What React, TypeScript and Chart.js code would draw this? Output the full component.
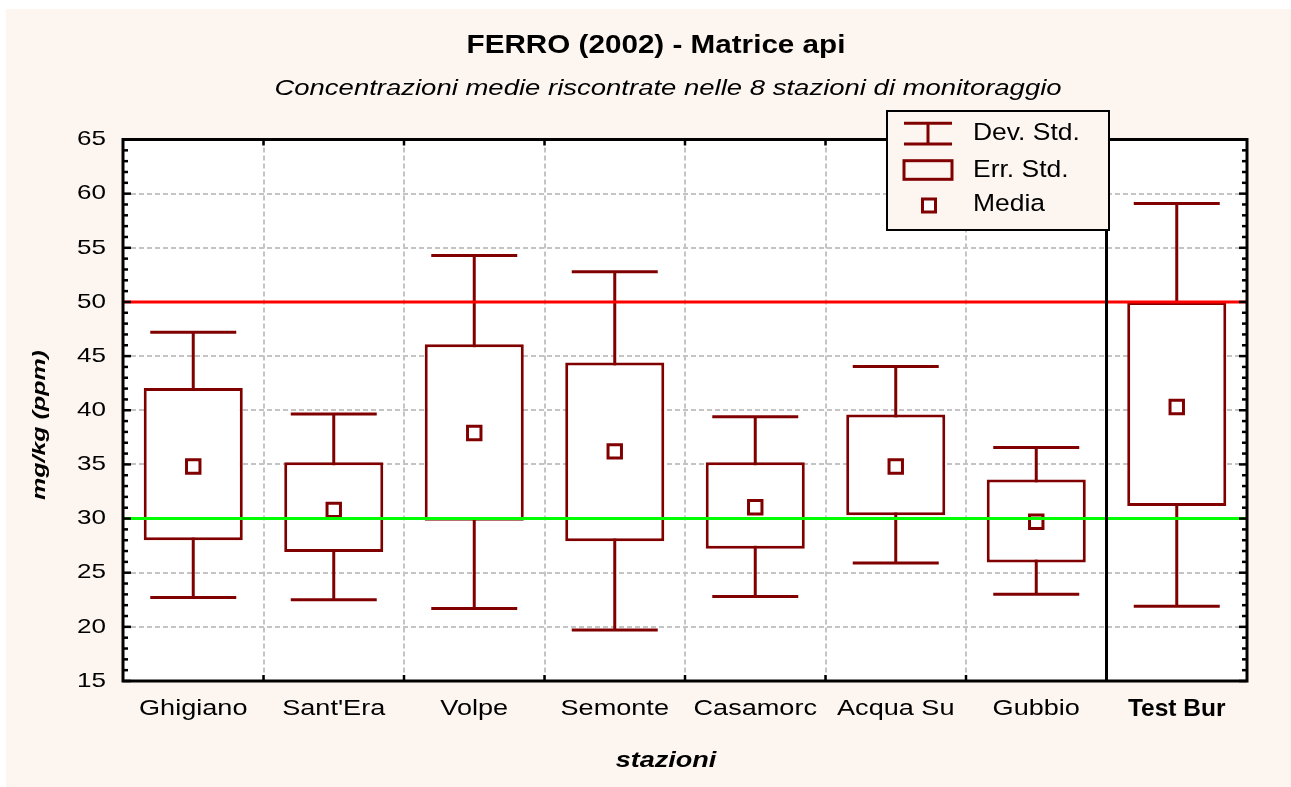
import React, { useEffect, useRef } from 'react';
import { Chart, registerables } from 'chart.js';

Chart.register(...registerables);

// ---------- data ----------
const categories = ['Ghigiano', "Sant'Era", 'Volpe', 'Semonte', 'Casamorc', 'Acqua Su', 'Gubbio', 'Test Bur'];
const means = [34.8, 30.8, 37.9, 36.2, 31.05, 34.8, 29.7, 40.3];
const seLow = [28.0, 26.9, 29.8, 27.9, 27.2, 30.3, 25.95, 31.15];
const seHigh = [42.05, 35.2, 46.1, 44.4, 35.2, 39.6, 33.6, 50.0];
const sdLow = [22.7, 22.5, 21.7, 19.7, 22.8, 25.9, 23.0, 21.9];
const sdHigh = [47.2, 39.65, 54.3, 52.8, 39.4, 44.05, 36.55, 59.1];
const yTickLabels = [15, 20, 25, 30, 35, 40, 45, 50, 55, 60, 65];
const refUpper = 50;
const refLower = 30;
const titleText = 'FERRO (2002) - Matrice api';
const subtitleText = 'Concentrazioni medie riscontrate nelle 8 stazioni di monitoraggio';
const xTitleText = 'stazioni';
const yTitleText = 'mg/kg (ppm)';
const legendLabels = ['Dev. Std.', 'Err. Std.', 'Media'];

// ---------- style ----------
const W = 1285;
const H = 778;
const BG = '#fdf6f0';
const DARK = '#800000';
const GRID = '#c4c4c4';
const FONT = '"Liberation Sans", Arial, sans-serif';
const BOX_FRAC = 0.705;
const CAP_FRAC = 0.612;

function txt(ctx: CanvasRenderingContext2D, s: string, x: number, y: number, font: string,
  align: CanvasTextAlign, sx: number, baseline: CanvasTextBaseline = 'alphabetic') {
  ctx.save();
  ctx.font = font;
  ctx.textAlign = align;
  ctx.textBaseline = baseline;
  ctx.fillStyle = '#000';
  ctx.translate(x, y);
  ctx.scale(sx, 1);
  ctx.fillText(s, 0, 0);
  ctx.restore();
}

function line(ctx: CanvasRenderingContext2D, x1: number, y1: number, x2: number, y2: number) {
  ctx.beginPath();
  ctx.moveTo(x1, y1);
  ctx.lineTo(x2, y2);
  ctx.stroke();
}

const customPlugin = {
  id: 'customDraw',
  beforeDraw(chart: any) {
    const { ctx, chartArea: a } = chart;
    ctx.save();
    ctx.fillStyle = BG;
    ctx.fillRect(0, 0, chart.width, chart.height);
    ctx.fillStyle = '#ffffff';
    ctx.fillRect(a.left, a.top, a.right - a.left, a.bottom - a.top);
    ctx.restore();
  },
  beforeDatasetsDraw(chart: any) {
    const { ctx } = chart;
    const xs = chart.scales.x;
    const ys = chart.scales.y;
    const catW = xs.getPixelForValue(1) - xs.getPixelForValue(0);
    const half = (catW * CAP_FRAC) / 2;
    ctx.save();
    ctx.strokeStyle = DARK;
    ctx.lineWidth = 3;
    categories.forEach((_, i) => {
      const px = xs.getPixelForValue(i);
      const yl = ys.getPixelForValue(sdLow[i]);
      const yh = ys.getPixelForValue(sdHigh[i]);
      line(ctx, px, yl, px, yh);
      line(ctx, px - half, yl, px + half, yl);
      line(ctx, px - half, yh, px + half, yh);
    });
    ctx.restore();
  },
  afterDraw(chart: any) {
    const { ctx, chartArea: a } = chart;
    const xs = chart.scales.x;
    const ys = chart.scales.y;
    ctx.save();
    ctx.lineCap = 'butt';
    // reference lines
    ctx.lineWidth = 3;
    ctx.strokeStyle = '#ff0000';
    const yu = ys.getPixelForValue(refUpper);
    line(ctx, a.left, yu, a.right, yu);
    ctx.strokeStyle = '#00ff00';
    const yl = ys.getPixelForValue(refLower);
    line(ctx, a.left, yl, a.right, yl);
    // separator before last category
    const n = categories.length;
    const sepX = (xs.getPixelForValue(n - 2) + xs.getPixelForValue(n - 1)) / 2;
    ctx.strokeStyle = '#000';
    ctx.lineWidth = 3;
    line(ctx, sepX, a.top, sepX, a.bottom);
    // frame
    ctx.strokeRect(a.left, a.top, a.right - a.left, a.bottom - a.top);
    // inward ticks on y axes
    ctx.lineWidth = 2.5;
    ys.ticks.forEach((t: any) => {
      const py = ys.getPixelForValue(t.value);
      const len = t.value % 5 === 0 ? 8 : 5;
      line(ctx, a.left, py, a.left + len, py);
      line(ctx, a.right, py, a.right - len, py);
    });
    // ticks on top/bottom at category boundaries
    for (let i = 1; i < n; i++) {
      const px = (xs.getPixelForValue(i - 1) + xs.getPixelForValue(i)) / 2;
      line(ctx, px, a.top, px, a.top + 6);
      line(ctx, px, a.bottom, px, a.bottom - 6);
    }
    ctx.restore();

    // y tick labels
    ys.ticks.forEach((t: any) => {
      if (yTickLabels.includes(t.value)) {
        txt(ctx, String(t.value), a.left - 17, ys.getPixelForValue(t.value), `21px ${FONT}`, 'right', 1.24, 'middle');
      }
    });
    // x labels
    categories.forEach((c, i) => {
      const px = xs.getPixelForValue(i);
      if (i === n - 1) {
        txt(ctx, c, px, a.bottom + 35, `bold 24.5px ${FONT}`, 'center', 1.0);
      } else {
        txt(ctx, c, px, a.bottom + 34, `21.5px ${FONT}`, 'center', 1.26);
      }
    });

    // titles
    txt(ctx, titleText, 650, 44, `bold 26px ${FONT}`, 'center', 1.14);
    txt(ctx, subtitleText, 662, 86, `italic 22px ${FONT}`, 'center', 1.25);
    txt(ctx, xTitleText, 660, 758, `italic bold 22px ${FONT}`, 'center', 1.23);
    ctx.save();
    ctx.translate(33.5, 416);
    ctx.rotate(-Math.PI / 2);
    txt(ctx, yTitleText, 0, 0, `italic bold 18.5px ${FONT}`, 'center', 1.35, 'middle');
    ctx.restore();

    // legend
    ctx.save();
    const lx = 881, ly = 102, lw = 222, lh = 119;
    ctx.fillStyle = BG;
    ctx.fillRect(lx, ly, lw, lh);
    ctx.strokeStyle = '#000';
    ctx.lineWidth = 2;
    ctx.strokeRect(lx, ly, lw, lh);
    ctx.strokeStyle = DARK;
    ctx.lineWidth = 3;
    // Dev. Std. symbol
    line(ctx, 898, 114.3, 946, 114.3);
    line(ctx, 898, 135, 946, 135);
    line(ctx, 922, 114.3, 922, 135);
    // Err. Std. symbol
    ctx.strokeRect(898, 151.7, 48, 18.6);
    // Media symbol
    ctx.fillStyle = '#fff';
    ctx.fillRect(916.5, 190, 13, 13);
    ctx.strokeRect(916.5, 190, 13, 13);
    ctx.restore();
    const lb = [131, 168, 202];
    legendLabels.forEach((s, i) => txt(ctx, s, 967, lb[i], `24.5px ${FONT}`, 'left', 1.08));
  },
};

export default function App() {
  const ref = useRef<HTMLCanvasElement>(null);
  useEffect(() => {
    document.body.style.margin = '0';
    const canvas = ref.current!;
    const chart = new Chart(canvas, {
      type: 'bar',
      data: {
        labels: categories,
        datasets: [
          {
            type: 'line',
            label: 'Media',
            data: means,
            showLine: false,
            pointStyle: 'rect',
            pointRadius: 9.5,
            pointBorderWidth: 3,
            pointBackgroundColor: '#ffffff',
            pointBorderColor: DARK,
            order: 0,
          } as any,
          {
            type: 'bar',
            label: 'Err. Std.',
            data: seLow.map((l, i) => [l, seHigh[i]]),
            backgroundColor: '#ffffff',
            borderColor: DARK,
            borderWidth: 3,
            borderSkipped: false,
            barPercentage: BOX_FRAC,
            categoryPercentage: 1,
            order: 1,
          } as any,
        ],
      },
      options: {
        animation: false,
        responsive: false,
        events: [],
        layout: { padding: { left: 117, top: 130.5, right: W - 1241, bottom: H - 672 } },
        plugins: {
          legend: { display: false },
          tooltip: { enabled: false },
          title: { display: false },
        },
        scales: {
          x: {
            offset: true,
            ticks: { display: false },
            grid: {
              offset: true,
              drawTicks: false,
              lineWidth: 2,
              color: (c: any) => (c.index === 0 || c.index >= categories.length - 1 ? 'rgba(0,0,0,0)' : GRID),
            },
            border: { display: false, dash: [5, 3] },
            afterFit: (s: any) => { s.height = 0; },
          },
          y: {
            min: 15,
            max: 65,
            ticks: { display: false, stepSize: 1 },
            grid: {
              drawTicks: false,
              lineWidth: 2,
              color: (c: any) => {
                const v = c.tick ? c.tick.value : NaN;
                return v % 5 === 0 && v !== 15 && v !== 65 ? GRID : 'rgba(0,0,0,0)';
              },
            },
            border: { display: false, dash: [5, 3] },
            afterFit: (s: any) => { s.width = 0; },
          },
        },
      } as any,
      plugins: [customPlugin],
    });
    return () => chart.destroy();
  }, []);
  return (
    <div style={{ padding: '9px 0 0 6px', width: W, height: H }}>
      <canvas ref={ref} width={W} height={H} style={{ display: 'block', width: W, height: H }} />
    </div>
  );
}
